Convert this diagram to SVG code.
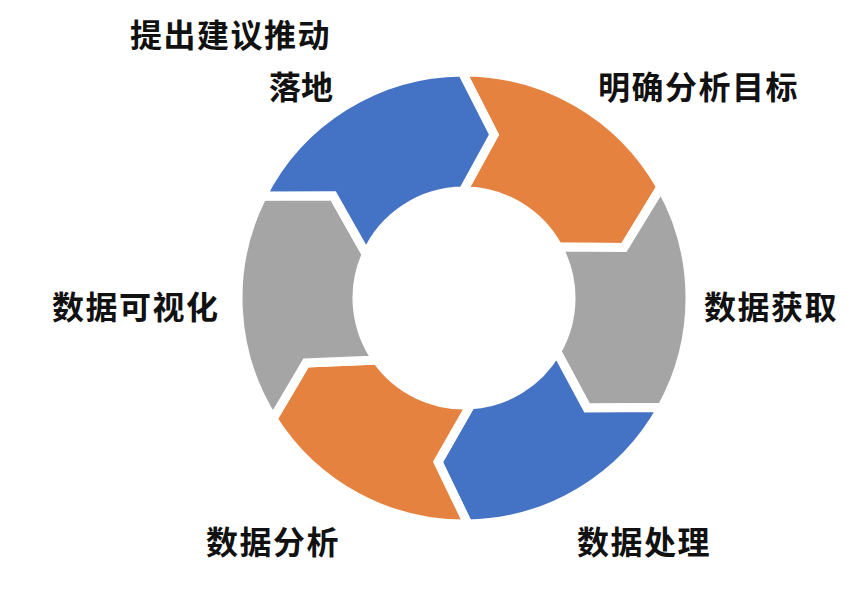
<svg xmlns="http://www.w3.org/2000/svg" width="857" height="596" viewBox="0 0 857 596">
<style>
.seg{stroke:#ffffff;stroke-width:9;stroke-linejoin:miter;stroke-miterlimit:10}
.blue{fill:#4472C4}
.orange{fill:#E5823F}
.gray{fill:#A5A5A5}
.lbl{font-family:"Noto Sans CJK SC","Noto Sans",sans-serif;font-weight:bold;font-size:32px;fill:#111111;letter-spacing:1.5px;dominant-baseline:central}
</style>
<rect width="857" height="596" fill="#ffffff"/>
<g id="connectors"></g>
<g id="seg-goal">
<path class="seg orange" d="M462,72 A226,226 0 0 1 660.9,187.1 L624,247.5 L558.1,247.1 A107,107 0 0 0 463.1,191 L494,134.7 Z"/>
<text class="lbl" x="598" y="85">明确分析目标</text>
</g>
<g id="seg-acquire">
<path class="seg gray" d="M660.9,187.1 A226,226 0 0 1 661.7,407.6 L587,408 L556.7,351.5 A107,107 0 0 0 558.1,247.1 L624,247.5 Z"/>
<text class="lbl" x="704" y="305">数据获取</text>
</g>
<g id="seg-process">
<path class="seg blue" d="M661.7,407.6 A226,226 0 0 1 467.9,524 L438,462 L470.7,404.8 A107,107 0 0 0 556.7,351.5 L587,408 Z"/>
<text class="lbl" x="577" y="540">数据处理</text>
</g>
<g id="seg-analyze">
<path class="seg orange" d="M467.9,524 A226,226 0 0 1 273,418.8 L306,363 L376.9,360.1 A107,107 0 0 0 470.7,404.8 L438,462 Z"/>
<text class="lbl" x="206" y="540">数据分析</text>
</g>
<g id="seg-visualize">
<path class="seg gray" d="M273,418.8 A226,226 0 0 1 262.3,196.1 L333.2,195.8 L366.3,254.3 A107,107 0 0 0 376.9,360.1 L306,363 Z"/>
<text class="lbl" x="52" y="305">数据可视化</text>
</g>
<g id="seg-suggest">
<path class="seg blue" d="M262.3,196.1 A226,226 0 0 1 462,72 L494,134.7 L463.1,191 A107,107 0 0 0 366.3,254.3 L333.2,195.8 Z"/>
<text class="lbl" x="130" y="33">提出建议推动</text>
<text class="lbl" x="333" y="85" text-anchor="end" style="letter-spacing:0">落地</text>
</g>
</svg>
